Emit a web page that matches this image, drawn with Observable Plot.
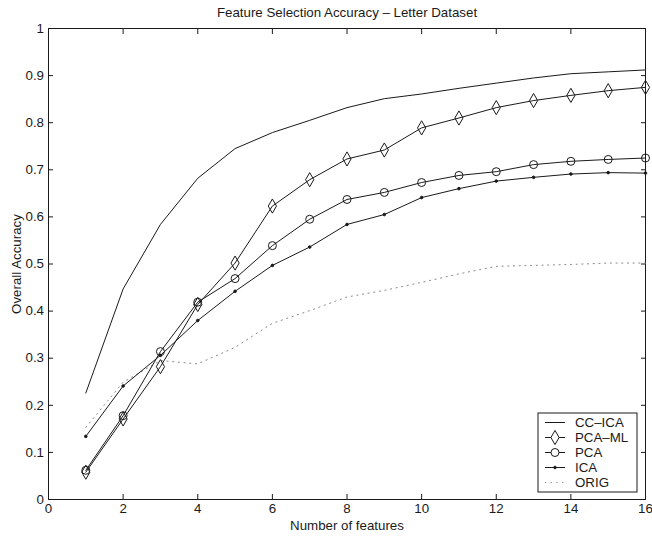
<!DOCTYPE html>
<html><head><meta charset="utf-8">
<script src="https://cdn.jsdelivr.net/npm/d3@7"></script>
<script src="https://cdn.jsdelivr.net/npm/@observablehq/plot@0.6"></script>
<style>
body{margin:0;background:#fff}
#chart svg{font-family:"Liberation Sans",Arial,Helvetica,sans-serif;background:#fff}
</style>
</head><body><div id="chart"></div>
<script>
// ---- data ----
const features = [1,2,3,4,5,6,7,8,9,10,11,12,13,14,15,16];
const ccIca  = [0.226,0.447,0.584,0.682,0.745,0.779,0.805,0.832,0.851,0.861,0.873,0.884,0.895,0.904,0.908,0.912];
const pcaMl  = [0.058,0.171,0.282,0.414,0.502,0.623,0.679,0.723,0.742,0.789,0.810,0.832,0.847,0.858,0.868,0.875];
const pca    = [0.062,0.178,0.314,0.419,0.469,0.539,0.595,0.637,0.652,0.673,0.688,0.696,0.711,0.718,0.722,0.725];
const ica    = [0.134,0.241,0.306,0.380,0.442,0.497,0.536,0.584,0.605,0.641,0.660,0.676,0.684,0.691,0.694,0.693];
const orig   = [0.153,0.249,0.295,0.288,0.323,0.374,0.401,0.430,0.444,0.461,0.479,0.495,0.497,0.499,0.502,0.502];
const seriesNames = ["CC\u2013ICA","PCA\u2013ML","PCA","ICA","ORIG"];
const xTicks = [0,2,4,6,8,10,12,14,16];
const yTicks = [0,0.1,0.2,0.3,0.4,0.5,0.6,0.7,0.8,0.9,1];
const yTickLabels = ["0","0.1","0.2","0.3","0.4","0.5","0.6","0.7","0.8","0.9","1"];
const titleText = "Feature Selection Accuracy \u2013 Letter Dataset";
const xLabel = "Number of features";
const yLabel = "Overall Accuracy";

const allSeries = [ccIca, pcaMl, pca, ica, orig];
const rows = allSeries.flatMap((vals, s) => vals.map((v, i) => ({series: seriesNames[s], x: features[i], y: v})));
const bySeries = name => rows.filter(d => d.series === name);

const ink = "#1a1a1a";
const fs = 13.3;
const styles = {
  "CC\u2013ICA": {stroke: ink, dash: null, symbol: null},
  "PCA\u2013ML": {stroke: ink, dash: null, symbol: "diamond", r: 4.3, fill: "none"},
  "PCA": {stroke: ink, dash: null, symbol: "circle", r: 4, fill: "none"},
  "ICA": {stroke: ink, dash: null, symbol: "circle", r: 1.3, fill: ink},
  "ORIG": {stroke: "#8a8a8a", dash: "1.2,4.5", symbol: null}
};

const legendMark = (index, scales, values, dims) => {
  const g = d3.create("svg:g").attr("font-size", fs).attr("fill", ink).attr("text-anchor", "start");
  const right = dims.width - dims.marginRight - 8;
  const bottom = dims.height - dims.marginBottom - 7;
  const w = 99, h = 79;
  const left = right - w, top = bottom - h;
  g.append("rect").attr("x", left).attr("y", top).attr("width", w).attr("height", h)
    .attr("fill", "white").attr("stroke", ink).attr("stroke-width", 1);
  seriesNames.forEach((name, i) => {
    const st = styles[name];
    const cy = top + 9.5 + i * 15;
    g.append("line").attr("x1", left + 7).attr("x2", left + 27).attr("y1", cy).attr("y2", cy)
      .attr("stroke", st.stroke).attr("stroke-width", 1).attr("stroke-dasharray", st.dash);
    if (st.symbol) {
      const sym = st.symbol === "diamond" ? d3.symbolDiamond : d3.symbolCircle;
      g.append("path").attr("transform", `translate(${left + 17},${cy})`)
        .attr("d", d3.symbol(sym, st.r * st.r * Math.PI)())
        .attr("fill", st.fill === "none" ? "white" : st.fill).attr("stroke", st.stroke);
    }
    g.append("text").attr("x", left + 37).attr("y", cy).attr("dy", "0.35em").attr("text-anchor", "start").text(name);
  });
  return g.node();
};

const marks = [
  Plot.frame({stroke: ink, strokeWidth: 1}),
  Plot.axisX(xTicks, {anchor: "bottom", tickSize: -5, tickPadding: 9, fontSize: fs, tickFormat: d => String(d), label: null, stroke: ink, fill: ink}),
  Plot.axisX(xTicks, {anchor: "top", tickSize: -5, tickFormat: () => "", label: null, stroke: ink}),
  Plot.axisY(yTicks, {anchor: "left", tickSize: -5, tickPadding: 9.5, fontSize: fs, tickFormat: (d, i) => yTickLabels[i], label: null, stroke: ink, fill: ink}),
  Plot.axisY(yTicks, {anchor: "right", tickSize: -5, tickFormat: () => "", label: null, stroke: ink}),
  ...seriesNames.slice().reverse().flatMap(name => {
    const st = styles[name];
    const m = [Plot.line(bySeries(name), {x: "x", y: "y", stroke: st.stroke, strokeWidth: 1, strokeDasharray: st.dash})];
    if (st.symbol) m.push(Plot.dot(bySeries(name), {x: "x", y: "y", symbol: st.symbol, r: st.r, fill: st.fill, stroke: st.stroke, strokeWidth: 1}));
    return m;
  }),
  Plot.text([titleText], {frameAnchor: "top", dy: -16, lineAnchor: "middle", textAnchor: "middle", fontSize: fs, fill: ink, text: d => d}),
  Plot.text([xLabel], {frameAnchor: "bottom", dy: 26, lineAnchor: "middle", textAnchor: "middle", fontSize: fs, fill: ink, text: d => d}),
  Plot.text([yLabel], {frameAnchor: "left", dx: -32, rotate: -90, lineAnchor: "middle", textAnchor: "middle", fontSize: fs, fill: ink, text: d => d}),
  legendMark
];

const chart = Plot.plot({
  width: 652, height: 536,
  marginLeft: 48, marginRight: 7, marginTop: 28, marginBottom: 37,
  x: {domain: [0, 16]},
  y: {domain: [0, 1]},
  style: {fontFamily: "'Liberation Sans', Arial, sans-serif", background: "#fff", overflow: "visible"},
  marks
});
document.getElementById("chart").append(chart);
</script>
</body></html>
